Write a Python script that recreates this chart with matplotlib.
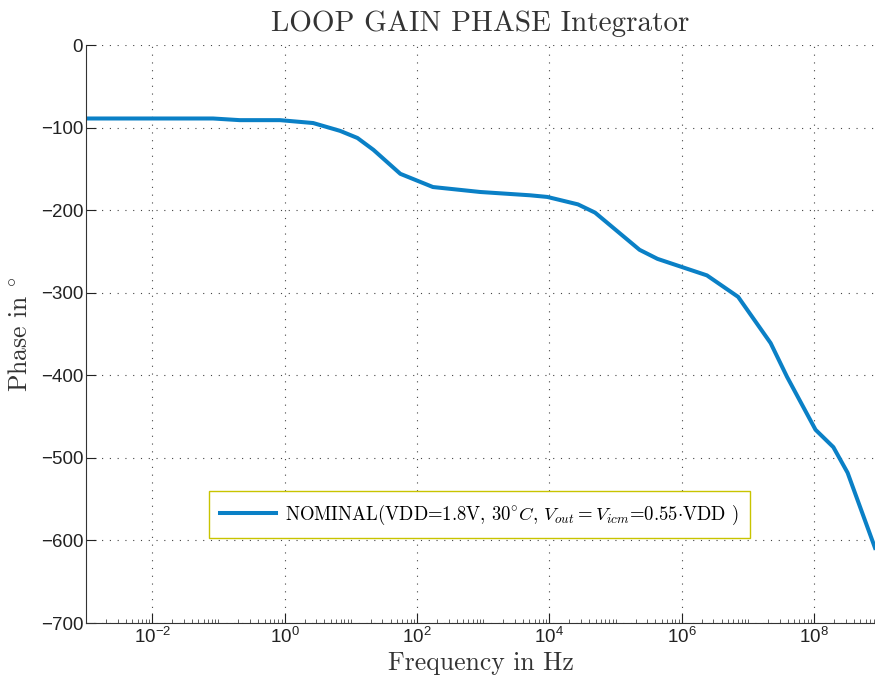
import numpy as np
import matplotlib
matplotlib.use('Agg')
import matplotlib.pyplot as plt
from matplotlib.ticker import LogLocator, NullFormatter, MultipleLocator

plt.rcParams['mathtext.fontset'] = 'cm'
plt.rcParams['axes.unicode_minus'] = True

# loop gain phase of the integrator, nominal corner
freq_hz = [1e-3, 8.3e-2, 2.1e-1, 8.5e-1, 2.7e0, 6.9e0, 1.26e1, 2.2e1, 5.6e1,
           1.74e2, 9.0e2, 5.1e3, 9.3e3, 2.7e4, 4.9e4, 2.3e5, 4.3e5, 2.4e6,
           7.1e6, 2.2e7, 3.9e7, 1.05e8, 1.95e8, 3.2e8, 8.3e8]
phase_deg = [-89, -89, -91, -91, -94.5, -104, -112.6, -127, -156,
             -172, -178, -182, -184, -193, -203, -248, -259, -279,
             -305, -361, -402, -466, -487, -518, -609]
freq_ticks = [1e-2, 1e0, 1e2, 1e4, 1e6, 1e8]
curve_label = (r'NOMINAL(VDD=1.8V, $30^{\circ}C$, $V_{out}=V_{icm}$'
               r'=0.55$\cdot$VDD )')

fig = plt.figure(figsize=(8.75, 6.86), dpi=100)
ax = fig.add_axes([0.0983, 0.0918, 0.9017, 0.8426])

ax.semilogx(freq_hz, phase_deg, color='#0a80c6', lw=2.9, label=curve_label)

ax.set_xlim(1e-3, 8.3e8)
ax.set_ylim(-700, 0)

ax.set_xticks(freq_ticks)
ax.xaxis.set_minor_locator(LogLocator(base=10.0, subs=np.arange(1, 10), numticks=40))
ax.xaxis.set_minor_formatter(NullFormatter())
ax.yaxis.set_major_locator(MultipleLocator(100))

ax.tick_params(which='major', direction='in', length=7, width=0.8,
               colors='#222222', labelsize=13.5, top=False, right=False, pad=3)
ax.tick_params(which='minor', direction='in', length=3, width=0.6,
               colors='#444444', top=False, right=False)
ax.tick_params(axis='y', which='minor', left=False)
ax.tick_params(axis='y', pad=2)
for lab in ax.get_xticklabels() + ax.get_yticklabels():
    lab.set_fontfamily('Liberation Sans')

ax.grid(True, which='major', color='#444444', linestyle=(0, (1, 6)), lw=0.8)
for side in ('top', 'right'):
    ax.spines[side].set_visible(False)
for side in ('left', 'bottom'):
    ax.spines[side].set_color('#333333')
    ax.spines[side].set_linewidth(0.8)

ax.set_title('LOOP GAIN PHASE Integrator', fontfamily='cmr10', fontsize=21,
             color='#333333', pad=10)
ax.set_xlabel('Frequency in Hz', fontfamily='cmr10', fontsize=18.5,
              color='#333333', labelpad=3)
ax.set_ylabel(r'Phase in $^{\circ}$', fontfamily='cmr10', fontsize=18.5,
              color='#333333')
ax.yaxis.set_label_coords(-0.068, 0.5)

leg = ax.legend(loc='center', bbox_to_anchor=(0.548, 0.25),
                bbox_transform=fig.transFigure, fancybox=False,
                edgecolor='#c8c400', framealpha=1, handlelength=3.0,
                prop={'family': 'cmr10', 'size': 13.5}, borderpad=0.6,
                handletextpad=0.5)
leg.get_frame().set_linewidth(1.0)

fig.savefig('out.png', dpi=100)
